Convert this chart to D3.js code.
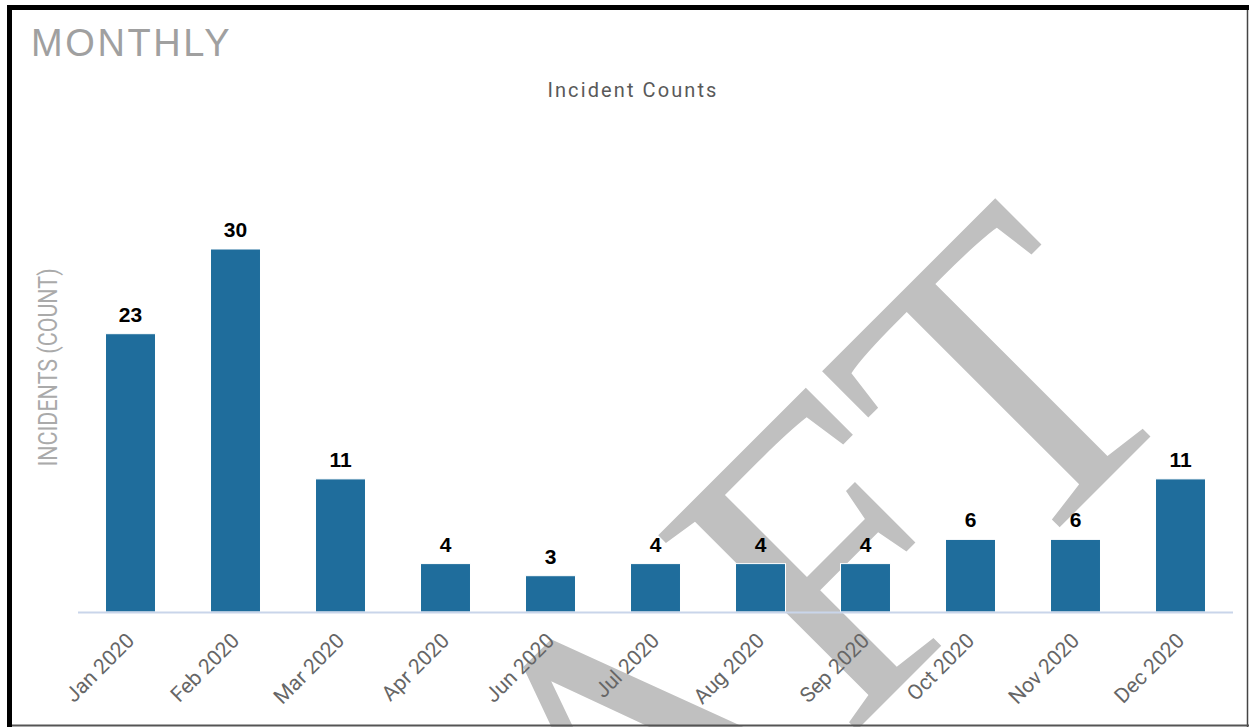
<!DOCTYPE html>
<html>
<head>
<meta charset="utf-8">
<script src="https://cdn.jsdelivr.net/npm/d3@7"></script>
<style>
  html, body { margin: 0; padding: 0; background: #fff; }
  svg { display: block; }
</style>
</head>
<body>
<svg id="chart" width="1250" height="727"></svg>
<script>
const categories = ["Jan 2020", "Feb 2020", "Mar 2020", "Apr 2020", "Jun 2020", "Jul 2020",
                    "Aug 2020", "Sep 2020", "Oct 2020", "Nov 2020", "Dec 2020"];
const incidentCounts = [23, 30, 11, 4, 3, 4, 4, 4, 6, 6, 11];
const pageTitle = "MONTHLY";
const chartTitle = "Incident Counts";
const yAxisTitle = "INCIDENTS (COUNT)";
const watermarkText = "DRAFT";

const svg = d3.select("#chart");
const W = 1250, H = 727;

svg.append("rect").attr("width", W).attr("height", H).attr("fill", "#fff");

// watermark (behind chart)
svg.append("text")
  .attr("transform", "translate(1197,390) rotate(-45)")
  .attr("text-anchor", "end")
  .attr("font-family", "'Liberation Serif', 'Times New Roman', serif")
  .attr("font-size", 425)
  .attr("fill", "#c0c0c0")
  .text(watermarkText);

const x = d3.scaleBand()
  .domain(categories)
  .range([78, 1233])
  .paddingInner(0.524)
  .paddingOuter(0.262);

const y = d3.scaleLinear()
  .domain([0, 30])
  .range([612, 249]);

// bars
svg.append("g").selectAll("rect")
  .data(incidentCounts)
  .join("rect")
  .attr("x", (d, i) => x(categories[i]))
  .attr("y", d => y(d))
  .attr("width", x.bandwidth())
  .attr("height", d => y(0) - y(d))
  .attr("fill", "#1f6d9c")
  .attr("stroke", "#ffffff")
  .attr("stroke-width", 1);

// x axis
const xAxis = svg.append("g")
  .attr("transform", `translate(0,${y(0)})`)
  .call(d3.axisBottom(x).tickSize(0).tickPadding(0));
xAxis.select(".domain").attr("stroke", "#c9d5ea").attr("stroke-width", 2)
  .attr("d", "M78,0.5H1233");
xAxis.selectAll(".tick text")
  .attr("font-family", "Roboto, sans-serif")
  .attr("font-size", 21)
  .attr("fill", "#666666")
  .attr("text-anchor", "end")
  .attr("dy", null)
  .attr("transform", "translate(5,30) rotate(-45)");

// value labels
svg.append("g").selectAll("text")
  .data(incidentCounts)
  .join("text")
  .attr("x", (d, i) => x(categories[i]) + x.bandwidth() / 2)
  .attr("y", d => y(d) - 12)
  .attr("text-anchor", "middle")
  .attr("font-family", "'Liberation Sans', Arial, sans-serif")
  .attr("font-weight", "bold")
  .attr("font-size", 21)
  .attr("fill", "#000")
  .text(d => d);

// titles
svg.append("text")
  .attr("x", 31).attr("y", 56)
  .attr("font-family", "'Liberation Sans', Arial, sans-serif")
  .attr("font-size", 38)
  .attr("letter-spacing", 2.6)
  .attr("fill", "#a0a0a0")
  .text(pageTitle);

svg.append("text")
  .attr("x", 633).attr("y", 97)
  .attr("text-anchor", "middle")
  .attr("font-family", "Roboto, sans-serif")
  .attr("font-size", 20)
  .attr("letter-spacing", 2.1)
  .attr("fill", "#595959")
  .text(chartTitle);

svg.append("text")
  .attr("transform", "translate(57,367.5) rotate(-90) scale(0.81,1)")
  .attr("text-anchor", "middle")
  .attr("font-family", "Roboto, sans-serif")
  .attr("font-size", 26.5)
  .attr("fill", "#aaaaaa")
  .text(yAxisTitle);

// frame
svg.append("line").attr("x1", 9.5).attr("x2", 9.5).attr("y1", 5).attr("y2", 727)
  .attr("stroke", "#000").attr("stroke-width", 5);
svg.append("line").attr("x1", 7).attr("x2", 1249).attr("y1", 7.5).attr("y2", 7.5)
  .attr("stroke", "#000").attr("stroke-width", 5);
svg.append("line").attr("x1", 1247.5).attr("x2", 1247.5).attr("y1", 10).attr("y2", 727)
  .attr("stroke", "#444").attr("stroke-width", 1.5);
svg.append("line").attr("x1", 12).attr("x2", 1249).attr("y1", 725.5).attr("y2", 725.5)
  .attr("stroke", "#555").attr("stroke-width", 2);
</script>
</body>
</html>
